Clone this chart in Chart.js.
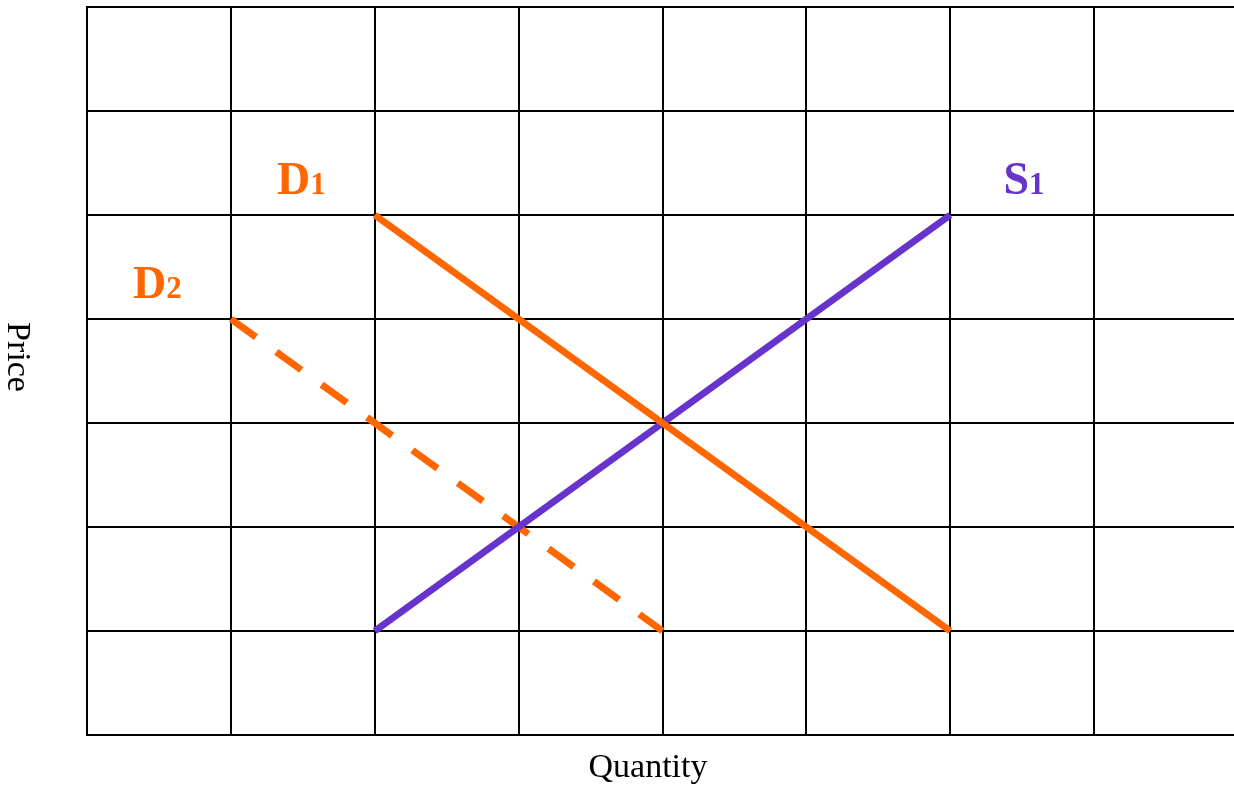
<!DOCTYPE html>
<html>
<head>
<meta charset="utf-8">
<script src="https://cdn.jsdelivr.net/npm/chart.js@4/dist/chart.umd.min.js"></script>
<style>
	html, body { margin: 0; padding: 0; background: #fff; overflow: hidden; }
	#wrap { width: 1238px; height: 786px; }
</style>
</head>
<body>
<div id="wrap"><canvas id="chart1"></canvas></div>
<script>
// axis ranges (grid cells)
var xMax = 8;
var yMax = 7;

// curves: quantity, price
var d1X = [2, 6];
var d1Y = [5, 1];
var s1X = [2, 6];
var s1Y = [1, 5];
var d2X = [1, 4];
var d2Y = [4, 1];

// curve labels
var labelNames = ['D', 'S', 'D'];
var labelSubs = ['1', '1', '2'];
var labelX = [1.32, 6.37, 0.32];
var labelY = [5.2, 5.2, 4.2];
var labelColors = ['#ff6600', '#6633cc', '#ff6600'];

var orange = '#ff6600';
var purple = '#6633cc';

function toPoints(xs, ys) {
	return xs.map(function(x, i) { return {x: x, y: ys[i]}; });
}

// draws curve names and axis titles
var textPlugin = {
	id: 'textPlugin',
	afterDraw: function(chart) {
		var c = chart.ctx;
		var sx = chart.scales.x;
		var sy = chart.scales.y;
		c.save();
		c.textBaseline = 'alphabetic';
		c.textAlign = 'left';
		for (var i = 0; i < labelNames.length; i++) {
			var px = sx.getPixelForValue(labelX[i]);
			var py = sy.getPixelForValue(labelY[i]);
			c.fillStyle = labelColors[i];
			c.font = 'bold 46px "Liberation Serif", "Times New Roman", serif';
			c.fillText(labelNames[i], px, py);
			var w = c.measureText(labelNames[i]).width;
			c.font = 'bold 31px "Liberation Serif", "Times New Roman", serif';
			c.fillText(labelSubs[i], px + w, py);
		}
		// axis titles
		c.fillStyle = '#000';
		c.font = '34px "Liberation Serif", "Times New Roman", serif';
		c.textAlign = 'center';
		c.fillText('Quantity', 648, 777);
		c.translate(8, 357);
		c.rotate(Math.PI / 2);
		c.fillText('Price', 0, 0);
		c.restore();
	}
};

var ctx1 = document.getElementById('chart1');

var config1 = {
	type: 'scatter',
	data: {
		datasets: [
			{
				data: toPoints(d1X, d1Y),
				showLine: true,
				borderColor: orange,
				borderWidth: 7,
				pointRadius: 0
			},
			{
				data: toPoints(s1X, s1Y),
				showLine: true,
				borderColor: purple,
				borderWidth: 7,
				pointRadius: 0
			},
			{
				data: toPoints(d2X, d2Y),
				showLine: true,
				borderColor: orange,
				borderWidth: 7,
				borderDash: [31, 25],
				pointRadius: 0
			}
		]
	},
	options: {
		responsive: true,
		maintainAspectRatio: false,
		animation: false,
		layout: {
			padding: { left: 87, top: 7, right: 0, bottom: 51 }
		},
		scales: {
			x: {
				type: 'linear',
				min: 0,
				max: xMax,
				ticks: { display: false, stepSize: 1 },
				grid: { color: '#000', lineWidth: 2, drawTicks: false, tickLength: 0 },
				border: { color: '#000', width: 2 }
			},
			y: {
				type: 'linear',
				min: 0,
				max: yMax,
				ticks: { display: false, stepSize: 1 },
				grid: { color: '#000', lineWidth: 2, drawTicks: false, tickLength: 0 },
				border: { color: '#000', width: 2 }
			}
		},
		plugins: {
			legend: { display: false },
			tooltip: { enabled: false }
		}
	},
	plugins: [textPlugin]
};

var chart1 = new Chart(ctx1, config1);
</script>
</body>
</html>
